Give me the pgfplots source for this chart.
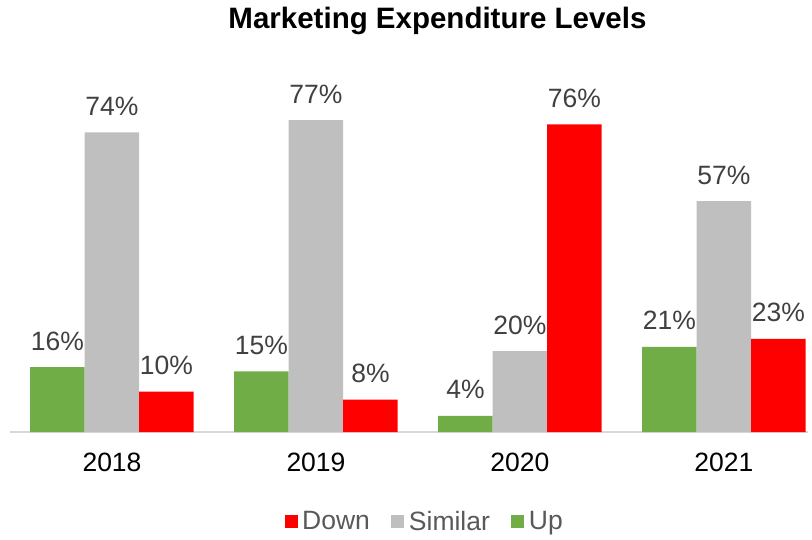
\documentclass[border=0pt]{standalone}
\usepackage{fontspec}
\setmainfont{Liberation Sans}
\usepackage{pgfplots}
\pgfplotsset{compat=1.18}
\definecolor{cUp}{HTML}{70AD47}
\definecolor{cSim}{HTML}{BFBFBF}
\definecolor{cDown}{HTML}{FF0000}
\definecolor{lbl}{HTML}{404040}
\definecolor{leg}{HTML}{595959}
\definecolor{axl}{HTML}{D9D9D9}
\begin{document}
\begin{tikzpicture}
\useasboundingbox (-10pt,-107pt) rectangle (802pt,432pt);
\begin{axis}[
  at={(0,0)}, anchor=south west,
  scale only axis, width=798pt, height=332pt,
  xmin=-0.5, xmax=3.412, ymin=0, ymax=82,
  ybar=0pt, bar width=54.5pt,
  axis x line*=bottom, axis y line=none,
  x axis line style={draw=axl, line width=1.5pt, -},
  xtick={0,1,2,3}, xticklabels={2018,2019,2020,2021},
  major tick length=0pt,
  xticklabel style={font=\fontsize{26.5}{31}\selectfont, text=black, anchor=north, inner sep=0pt, yshift=-21pt},
  ytick=\empty,
  /pgf/number format/assume math mode=true,
  nodes near coords={\pgfmathprintnumber{\pgfplotspointmeta}\%},
  nodes near coords style={font=\fontsize{26.5}{31}\selectfont, text=lbl, anchor=base, inner sep=0pt, yshift=17pt},
  title={Marketing Expenditure Levels},
  title style={at={(0.5357,1.1958)}, anchor=base, font=\bfseries\fontsize{29.5}{35}\selectfont, inner sep=0pt},
  legend style={at={(0.5213,-0.2696)}, anchor=center, draw=none, fill=none,
    font=\fontsize{26.5}{31}\selectfont, text=leg, legend columns=-1,
    nodes={inner xsep=4.5pt, inner ysep=2pt},
    /tikz/every even column/.append style={column sep=17pt}},
  reverse legend,
  legend image code/.code={\draw[#1,draw=none] (0pt,-6.5pt) rectangle (13pt,6.5pt);},
]
\addplot[fill=cUp, draw=none] coordinates {(0,16) (1,15) (2,4) (3,21)};
\addlegendentry{Up}
\addplot[fill=cSim, draw=none] coordinates {(0,74) (1,77) (2,20) (3,57)};
\addlegendentry{Similar}
\addplot[fill=cDown, draw=none] coordinates {(0,10) (1,8) (2,76) (3,23)};
\addlegendentry{Down}
\end{axis}
\end{tikzpicture}
\end{document}
